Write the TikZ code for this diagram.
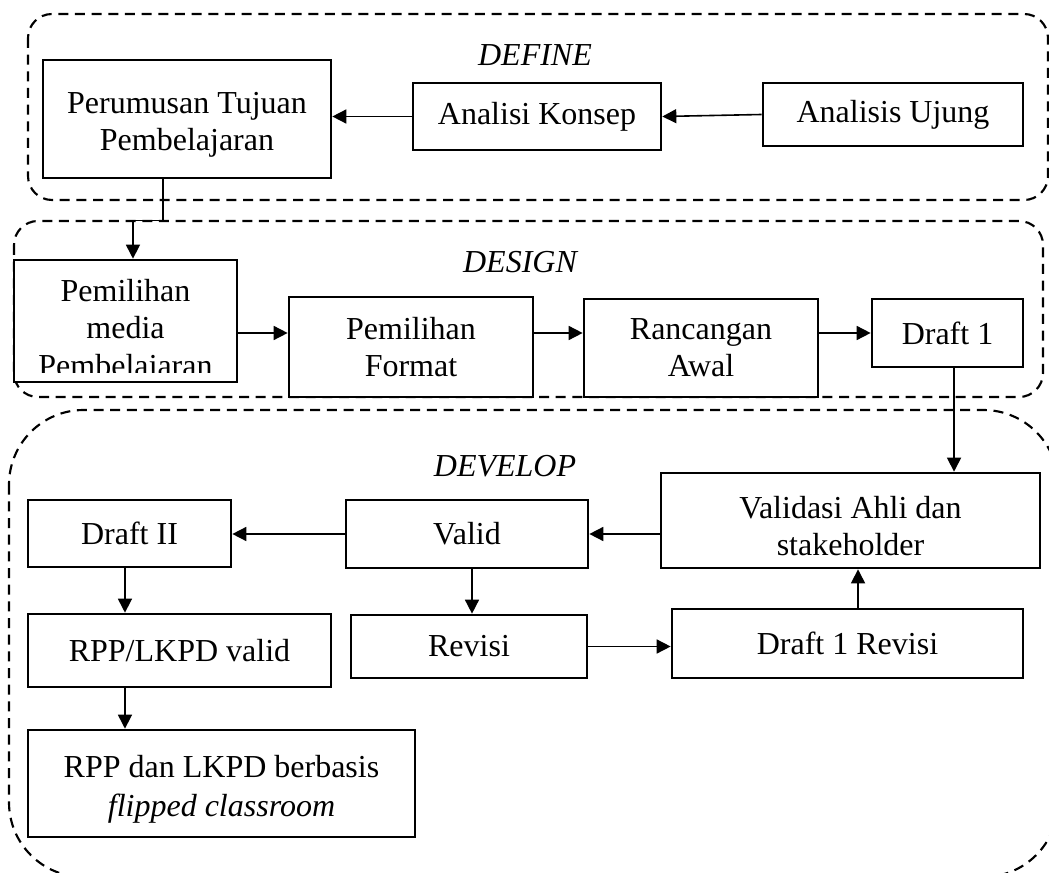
\documentclass[tikz,border=0pt]{standalone}
\usepackage{fontspec}
\setmainfont{Liberation Serif}
\usetikzlibrary{arrows.meta}

\begin{document}
\begin{tikzpicture}[x=0.75pt,y=-0.75pt,
  >={Triangle[length=10.5pt,width=10.5pt]},
  procbox/.style={rectangle,draw=black,fill=white,line width=2pt,align=center,inner sep=0pt,font=\fontsize{24}{28}\selectfont},
  phasebox/.style={draw=black,line width=1.6pt,dash pattern=on 7.5pt off 5pt},
  phasename/.style={font=\fontsize{24}{28}\selectfont\itshape},
  arr/.style={->,line width=1.2pt}]
\clip (0,0) rectangle (1049,873);
% phases
\draw[phasebox,rounded corners=18pt] (28,14) rectangle (1048,200);
\draw[phasebox,rounded corners=18pt] (14,221) rectangle (1043,397);
\draw[phasebox,rounded corners=56pt] (9,410) rectangle (1058,877);
\node[phasename] (define) at (535,55) {DEFINE};
\node[phasename] (design) at (520,262) {DESIGN};
\node[phasename] (develop) at (505,466) {DEVELOP};
% define
\node[procbox,minimum width=216pt,minimum height=88.5pt] (tujuan) at (187,119) {\rule{0pt}{25pt}Perumusan Tujuan\\Pembelajaran};
\node[procbox,minimum width=186pt,minimum height=50.25pt] (konsep) at (537,116.5) {Analisi Konsep};
\node[procbox,minimum width=195pt,minimum height=47.25pt] (ujung) at (893,114.5) {Analisis Ujung};
\draw[arr] (ujung.west) -- (konsep.east);
\draw[arr] (konsep.west) -- (konsep.west -| tujuan.east);
% design
\node[procbox,minimum width=167.25pt,minimum height=91.5pt] (media) at (125.5,321) {};
\begin{scope}
\clip (media.north west) rectangle ([yshift=8.25pt]media.south east);
\node[align=center,font=\fontsize{24}{28}\selectfont] (mediatext) at (125.5,331) {Pemilihan\\media\\Pembelajaran};
\end{scope}
\node[procbox,minimum width=183pt,minimum height=75pt] (format) at (411,347) {Pemilihan\\Format};
\node[procbox,minimum width=175.5pt,minimum height=73.5pt] (awal) at (701,348) {Rancangan\\Awal};
\node[procbox,minimum width=113.25pt,minimum height=51pt] (draftsatu) at (947.5,333) {Draft 1};
\draw[arr] ([xshift=-18pt]tujuan.south) -- ++(0,41) -| ([xshift=5.6pt]media.north);
\draw[arr] (media.east |- draftsatu.west) -- (format.west |- draftsatu.west);
\draw[arr] (format.east |- draftsatu.west) -- (awal.west |- draftsatu.west);
\draw[arr] (awal.east |- draftsatu.west) -- (draftsatu.west);
% develop
\node[procbox,minimum width=284.25pt,minimum height=71.25pt] (validasi) at (850.5,520.5) {\rule{0pt}{25pt}Validasi Ahli dan\\stakeholder};
\node[procbox,minimum width=181.5pt,minimum height=51pt] (valid) at (467,534) {Valid};
\node[procbox,minimum width=152.25pt,minimum height=50.25pt] (draftdua) at (129.5,533.5) {Draft II};
\node[procbox,minimum width=177pt,minimum height=47.25pt] (revisi) at (469,646.5) {Revisi};
\node[procbox,minimum width=263.25pt,minimum height=51.75pt] (revisisatu) at (847.5,643.5) {Draft 1 Revisi};
\node[procbox,minimum width=227.25pt,minimum height=54.75pt] (rppvalid) at (179.5,650.5) {RPP/LKPD valid};
\node[procbox,minimum width=290.25pt,minimum height=80.25pt] (produk) at (221.5,783.5) {\rule{0pt}{25.4pt}RPP dan LKPD berbasis\\[1.5pt]\textit{flipped classroom}};
\draw[arr] ([xshift=4.9pt]draftsatu.south) -- ([xshift=4.9pt]draftsatu.south |- validasi.north);
\draw[arr] (validasi.west |- valid.east) -- (valid.east);
\draw[arr] (valid.west) -- (valid.west -| draftdua.east);
\draw[arr] ([xshift=3.75pt]valid.south) -- ([xshift=3.75pt]valid.south |- revisi.north);
\draw[arr] (revisi.east) -- (revisi.east -| revisisatu.west);
\draw[arr] ([xshift=7.9pt]revisisatu.north) -- ([xshift=7.9pt]revisisatu.north |- validasi.south);
\draw[arr] ([xshift=-3.4pt]draftdua.south) -- ([xshift=-3.4pt]draftdua.south |- rppvalid.north);
\draw[arr] ([xshift=-3.4pt]draftdua.south |- rppvalid.south) -- ([xshift=-3.4pt]draftdua.south |- produk.north);
\end{tikzpicture}
\end{document}
